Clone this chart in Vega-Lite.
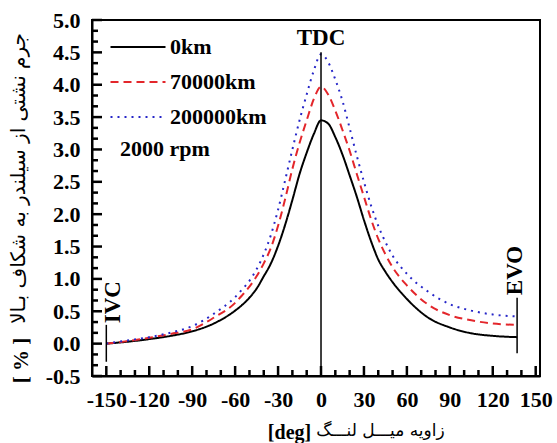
{
  "$schema": "https://vega.github.io/schema/vega-lite/v6.json",
  "width": 448,
  "height": 356,
  "autosize": "none",
  "padding": {"left": 92, "top": 20, "right": 17, "bottom": 67},
  "background": "white",
  "config": {"view": {"stroke": "black", "strokeWidth": 2}},
  "resolve": {"axis": {"x": "independent", "y": "independent"}},
  "layer": [
    {
      "data": {"values": [
        {"series":"0km","deg":-150,"value":0.00},{"series":"0km","deg":-135,"value":0.03},{"series":"0km","deg":-120,"value":0.07},{"series":"0km","deg":-105,"value":0.12},{"series":"0km","deg":-90,"value":0.19},{"series":"0km","deg":-75,"value":0.31},{"series":"0km","deg":-60,"value":0.51},{"series":"0km","deg":-55,"value":0.60},{"series":"0km","deg":-50,"value":0.71},{"series":"0km","deg":-45,"value":0.85},{"series":"0km","deg":-40,"value":1.04},{"series":"0km","deg":-35,"value":1.24},{"series":"0km","deg":-30,"value":1.51},{"series":"0km","deg":-25,"value":1.84},{"series":"0km","deg":-20,"value":2.22},{"series":"0km","deg":-15,"value":2.62},{"series":"0km","deg":-10,"value":2.95},{"series":"0km","deg":-5,"value":3.24},{"series":"0km","deg":0,"value":3.45},{"series":"0km","deg":5,"value":3.40},{"series":"0km","deg":10,"value":3.19},{"series":"0km","deg":15,"value":2.92},{"series":"0km","deg":20,"value":2.60},{"series":"0km","deg":25,"value":2.27},{"series":"0km","deg":30,"value":1.91},{"series":"0km","deg":35,"value":1.58},{"series":"0km","deg":40,"value":1.30},{"series":"0km","deg":45,"value":1.11},{"series":"0km","deg":50,"value":0.95},{"series":"0km","deg":60,"value":0.69},{"series":"0km","deg":75,"value":0.40},{"series":"0km","deg":90,"value":0.25},{"series":"0km","deg":105,"value":0.16},{"series":"0km","deg":120,"value":0.12},{"series":"0km","deg":137,"value":0.10},
        {"series":"70000km","deg":-150,"value":0.00},{"series":"70000km","deg":-135,"value":0.04},{"series":"70000km","deg":-120,"value":0.09},{"series":"70000km","deg":-105,"value":0.15},{"series":"70000km","deg":-90,"value":0.22},{"series":"70000km","deg":-75,"value":0.40},{"series":"70000km","deg":-60,"value":0.63},{"series":"70000km","deg":-55,"value":0.75},{"series":"70000km","deg":-50,"value":0.88},{"series":"70000km","deg":-45,"value":1.04},{"series":"70000km","deg":-40,"value":1.24},{"series":"70000km","deg":-35,"value":1.48},{"series":"70000km","deg":-30,"value":1.82},{"series":"70000km","deg":-25,"value":2.24},{"series":"70000km","deg":-20,"value":2.70},{"series":"70000km","deg":-15,"value":3.10},{"series":"70000km","deg":-10,"value":3.45},{"series":"70000km","deg":-5,"value":3.78},{"series":"70000km","deg":0,"value":3.97},{"series":"70000km","deg":5,"value":3.85},{"series":"70000km","deg":10,"value":3.60},{"series":"70000km","deg":15,"value":3.30},{"series":"70000km","deg":20,"value":2.98},{"series":"70000km","deg":25,"value":2.62},{"series":"70000km","deg":30,"value":2.27},{"series":"70000km","deg":35,"value":1.92},{"series":"70000km","deg":40,"value":1.62},{"series":"70000km","deg":45,"value":1.38},{"series":"70000km","deg":50,"value":1.18},{"series":"70000km","deg":60,"value":0.90},{"series":"70000km","deg":75,"value":0.60},{"series":"70000km","deg":90,"value":0.44},{"series":"70000km","deg":105,"value":0.36},{"series":"70000km","deg":120,"value":0.31},{"series":"70000km","deg":137,"value":0.29},
        {"series":"200000km","deg":-150,"value":0.00},{"series":"200000km","deg":-135,"value":0.05},{"series":"200000km","deg":-120,"value":0.10},{"series":"200000km","deg":-105,"value":0.17},{"series":"200000km","deg":-90,"value":0.27},{"series":"200000km","deg":-75,"value":0.46},{"series":"200000km","deg":-60,"value":0.72},{"series":"200000km","deg":-55,"value":0.84},{"series":"200000km","deg":-50,"value":0.97},{"series":"200000km","deg":-45,"value":1.15},{"series":"200000km","deg":-40,"value":1.38},{"series":"200000km","deg":-35,"value":1.68},{"series":"200000km","deg":-30,"value":2.07},{"series":"200000km","deg":-25,"value":2.53},{"series":"200000km","deg":-20,"value":3.00},{"series":"200000km","deg":-15,"value":3.45},{"series":"200000km","deg":-10,"value":3.85},{"series":"200000km","deg":-5,"value":4.22},{"series":"200000km","deg":0,"value":4.47},{"series":"200000km","deg":5,"value":4.35},{"series":"200000km","deg":10,"value":4.08},{"series":"200000km","deg":15,"value":3.75},{"series":"200000km","deg":20,"value":3.33},{"series":"200000km","deg":25,"value":2.90},{"series":"200000km","deg":30,"value":2.50},{"series":"200000km","deg":35,"value":2.13},{"series":"200000km","deg":40,"value":1.82},{"series":"200000km","deg":45,"value":1.57},{"series":"200000km","deg":50,"value":1.36},{"series":"200000km","deg":60,"value":1.08},{"series":"200000km","deg":75,"value":0.80},{"series":"200000km","deg":90,"value":0.61},{"series":"200000km","deg":105,"value":0.51},{"series":"200000km","deg":120,"value":0.45},{"series":"200000km","deg":137,"value":0.42}
      ]},
      "mark": {"type": "line", "interpolate": "monotone", "strokeWidth": 2},
      "encoding": {
        "x": {"field": "deg", "type": "quantitative",
          "scale": {"domain": [-160, 153], "nice": false, "zero": false},
          "axis": {"orient": "bottom",
            "values": [-150,-120,-90,-60,-30,0,30,60,90,120,150],
            "labelExpr": "'' + datum.value",
            "ticks": false, "domain": true, "domainColor": "black", "domainWidth": 2, "grid": false,
            "labelFont": "Liberation Serif", "labelFontWeight": "bold", "labelFontSize": 22, "labelColor": "black",
            "labelPadding": 13, "labelOverlap": false, "labelFlush": false, "labelBound": false,
            "title": "[deg]", "titleFont": "Liberation Serif", "titleFontWeight": "bold", "titleFontSize": 20, "titleColor": "black",
            "titleX": 197, "titleY": 56, "titleAlign": "center", "titleBaseline": "middle"}},
        "y": {"field": "value", "type": "quantitative",
          "scale": {"domain": [-0.5, 5], "nice": false, "zero": false},
          "axis": {"orient": "left",
            "values": [-0.5,0,0.5,1,1.5,2,2.5,3,3.5,4,4.5,5],
            "labelExpr": "replace(format(datum.value, '.1f'), '\u2212', '-')",
            "ticks": false, "domain": true, "domainColor": "black", "domainWidth": 2, "grid": false,
            "labelFont": "Liberation Serif", "labelFontWeight": "bold", "labelFontSize": 22, "labelColor": "black",
            "labelPadding": 12, "labelOverlap": false, "labelFlush": false, "labelBound": false,
            "title": "[ % ]", "titleFont": "Liberation Serif", "titleFontWeight": "bold", "titleFontSize": 21, "titleColor": "black",
            "titleX": -71, "titleY": 340, "titleAngle": 270, "titleAlign": "center", "titleBaseline": "middle"}},
        "color": {"field": "series", "type": "nominal",
          "scale": {"domain": ["0km", "70000km", "200000km"], "range": ["#000000", "#e3262b", "#2626c8"]},
          "legend": {"orient": "none", "legendX": 25, "legendY": 6, "title": null, "symbolType": "M-1.375,0H1.375", "symbolSize": 1600, "symbolStrokeWidth": 2,
            "labelFont": "Liberation Serif", "labelFontWeight": "bold", "labelFontSize": 22, "labelColor": "black", "labelLimit": 300,
            "rowPadding": 3, "labelOffset": 11, "padding": 0}},
        "strokeDash": {"field": "series", "type": "nominal",
          "scale": {"domain": ["0km", "70000km", "200000km"], "range": [[1, 0], [8, 5], [2, 5]]},
          "legend": {"orient": "none", "legendX": 25, "legendY": 6, "title": null, "symbolType": "M-1.375,0H1.375", "symbolSize": 1600, "symbolStrokeWidth": 2,
            "labelFont": "Liberation Serif", "labelFontWeight": "bold", "labelFontSize": 22, "labelColor": "black", "labelLimit": 300,
            "rowPadding": 3, "labelOffset": 11, "padding": 0}}
      }
    },
    {
      "data": {"values": [
        {"event": "IVC", "deg": -150, "lo": -0.28, "hi": 0.29},
        {"event": "TDC", "deg": 0, "lo": -0.5, "hi": 4.5},
        {"event": "EVO", "deg": 137, "lo": -0.15, "hi": 0.71}
      ]},
      "mark": {"type": "rule", "color": "black", "strokeWidth": 1.5},
      "encoding": {
        "x": {"field": "deg", "type": "quantitative", "scale": {"domain": [-160, 153], "nice": false, "zero": false},
          "axis": {"orient": "bottom", "labels": false, "domain": false, "ticks": false, "grid": false,
            "title": "زاویه میـــل لنـــگ", "titleFont": "DejaVu Sans", "titleFontWeight": "normal", "titleFontSize": 17, "titleColor": "black",
            "titleX": 288, "titleY": 54, "titleAlign": "center", "titleBaseline": "middle"}},
        "y": {"field": "lo", "type": "quantitative", "scale": {"domain": [-0.5, 5], "nice": false, "zero": false},
          "axis": {"orient": "left", "labels": false, "domain": false, "ticks": false, "grid": false,
            "title": "جرم نشتی از سیلندر به شکاف بـالا", "titleFont": "DejaVu Sans", "titleFontWeight": "normal", "titleFontSize": 20, "titleColor": "black",
            "titleX": -74, "titleY": 158, "titleAngle": 270, "titleAlign": "center", "titleBaseline": "middle"}},
        "y2": {"field": "hi"}
      }
    },
    {
      "data": {"values": [{"tick": -150}, {"tick": -120}, {"tick": -90}, {"tick": -60}, {"tick": -30}, {"tick": 0}, {"tick": 30}, {"tick": 60}, {"tick": 90}, {"tick": 120}, {"tick": 150}]},
      "mark": {"type": "rule", "color": "black", "strokeWidth": 2.5, "y2Offset": -10},
      "encoding": {
        "x": {"field": "tick", "type": "quantitative", "scale": {"domain": [-160, 153], "nice": false, "zero": false}, "axis": null},
        "y": {"datum": -0.5, "type": "quantitative", "scale": {"domain": [-0.5, 5], "nice": false, "zero": false}, "axis": null},
        "y2": {"datum": -0.5}
      }
    },
    {
      "data": {"values": [{"tick": -140}, {"tick": -130}, {"tick": -110}, {"tick": -100}, {"tick": -80}, {"tick": -70}, {"tick": -50}, {"tick": -40}, {"tick": -20}, {"tick": -10}, {"tick": 10}, {"tick": 20}, {"tick": 40}, {"tick": 50}, {"tick": 70}, {"tick": 80}, {"tick": 100}, {"tick": 110}, {"tick": 130}, {"tick": 140}]},
      "mark": {"type": "rule", "color": "black", "strokeWidth": 2.5, "y2Offset": -6},
      "encoding": {
        "x": {"field": "tick", "type": "quantitative", "scale": {"domain": [-160, 153], "nice": false, "zero": false}, "axis": null},
        "y": {"datum": -0.5, "type": "quantitative", "scale": {"domain": [-0.5, 5], "nice": false, "zero": false}, "axis": null},
        "y2": {"datum": -0.5}
      }
    },
    {
      "data": {"values": [{"tick": -0.5}, {"tick": 0}, {"tick": 0.5}, {"tick": 1}, {"tick": 1.5}, {"tick": 2}, {"tick": 2.5}, {"tick": 3}, {"tick": 3.5}, {"tick": 4}, {"tick": 4.5}, {"tick": 5}]},
      "mark": {"type": "rule", "color": "black", "strokeWidth": 2.5, "x2Offset": 10},
      "encoding": {
        "x": {"datum": -160, "type": "quantitative", "scale": {"domain": [-160, 153], "nice": false, "zero": false}, "axis": null},
        "x2": {"datum": -160},
        "y": {"field": "tick", "type": "quantitative", "scale": {"domain": [-0.5, 5], "nice": false, "zero": false}, "axis": null}
      }
    },
    {
      "data": {"values": [{"tick": -0.3333}, {"tick": -0.1667}, {"tick": 0.1667}, {"tick": 0.3333}, {"tick": 0.6667}, {"tick": 0.8333}, {"tick": 1.1667}, {"tick": 1.3333}, {"tick": 1.6667}, {"tick": 1.8333}, {"tick": 2.1667}, {"tick": 2.3333}, {"tick": 2.6667}, {"tick": 2.8333}, {"tick": 3.1667}, {"tick": 3.3333}, {"tick": 3.6667}, {"tick": 3.8333}, {"tick": 4.1667}, {"tick": 4.3333}, {"tick": 4.6667}, {"tick": 4.8333}]},
      "mark": {"type": "rule", "color": "black", "strokeWidth": 2.5, "x2Offset": 6},
      "encoding": {
        "x": {"datum": -160, "type": "quantitative", "scale": {"domain": [-160, 153], "nice": false, "zero": false}, "axis": null},
        "x2": {"datum": -160},
        "y": {"field": "tick", "type": "quantitative", "scale": {"domain": [-0.5, 5], "nice": false, "zero": false}, "axis": null}
      }
    },
    {
      "data": {"values": [{"label": "TDC", "deg": 0, "value": 4.72}]},
      "mark": {"type": "text", "font": "Liberation Serif", "fontWeight": "bold", "fontSize": 23, "color": "black", "align": "center", "baseline": "middle"},
      "encoding": {
        "x": {"field": "deg", "type": "quantitative", "scale": {"domain": [-160, 153], "nice": false, "zero": false}, "axis": null},
        "y": {"field": "value", "type": "quantitative", "scale": {"domain": [-0.5, 5], "nice": false, "zero": false}, "axis": null},
        "text": {"field": "label"}
      }
    },
    {
      "data": {"values": [{"label": "2000 rpm", "deg": -140.5, "value": 3.0}]},
      "mark": {"type": "text", "font": "Liberation Serif", "fontWeight": "bold", "fontSize": 22, "color": "black", "align": "left", "baseline": "middle"},
      "encoding": {
        "x": {"field": "deg", "type": "quantitative", "scale": {"domain": [-160, 153], "nice": false, "zero": false}, "axis": null},
        "y": {"field": "value", "type": "quantitative", "scale": {"domain": [-0.5, 5], "nice": false, "zero": false}, "axis": null},
        "text": {"field": "label"}
      }
    },
    {
      "data": {"values": [{"label": "IVC", "deg": -145, "value": 0.64}, {"label": "EVO", "deg": 135.2, "value": 1.13}]},
      "mark": {"type": "text", "font": "Liberation Serif", "fontWeight": "bold", "fontSize": 23, "color": "black", "align": "center", "baseline": "middle", "angle": 270},
      "encoding": {
        "x": {"field": "deg", "type": "quantitative", "scale": {"domain": [-160, 153], "nice": false, "zero": false}, "axis": null},
        "y": {"field": "value", "type": "quantitative", "scale": {"domain": [-0.5, 5], "nice": false, "zero": false}, "axis": null},
        "text": {"field": "label"}
      }
    }
  ]
}
